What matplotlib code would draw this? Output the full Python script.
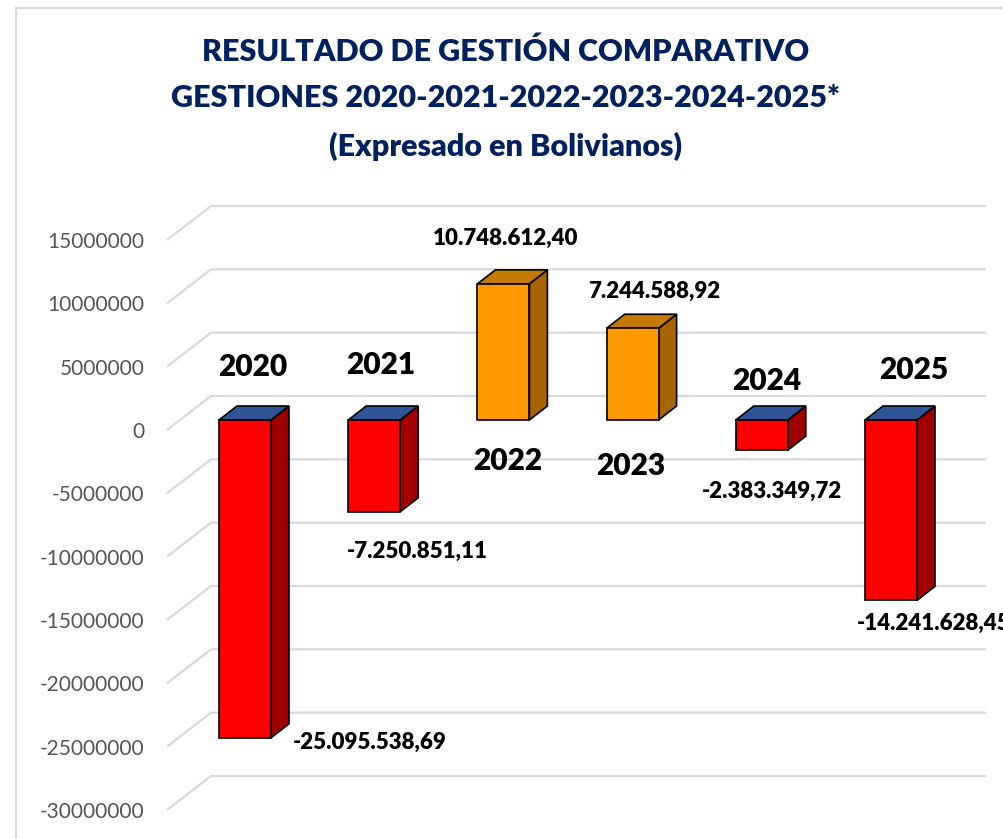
import matplotlib.pyplot as plt
from matplotlib.patches import Polygon
from matplotlib.lines import Line2D

years = ["2020", "2021", "2022", "2023", "2024", "2025"]
results = [-25095538.69, -7250851.11, 10748612.40, 7244588.92, -2383349.72, -14241628.45]
value_labels = ["-25.095.538,69", "-7.250.851,11", "10.748.612,40",
                "7.244.588,92", "-2.383.349,72", "-14.241.628,45"]
ticks = list(range(-30000000, 15000001, 5000000))
title_lines = ["RESULTADO DE GESTIÓN COMPARATIVO",
               "GESTIONES 2020-2021-2022-2023-2024-2025*",
               "(Expresado en Bolivianos)"]

# label placement in image pixels (x, y, ha)
year_pos = [(253, 367), (381, 365), (508, 461), (631, 466), (767, 381), (914, 370)]
value_pos = [(293, 742, "left"), (347, 551, "left"), (506, 238, "center"),
             (654, 291, "center"), (772, 491, "center"), (857, 623, "left")]

W, H = 1004, 839
plt.rcParams["font.family"] = ["Lato", "DejaVu Sans"]
fig = plt.figure(figsize=(W / 100, H / 100), dpi=100)

# pixel scales of the (pseudo 3d) chart
PX_CAT = 129.2          # pixels between categories
PX_VAL = 63.33 / 5e6    # pixels per boliviano
X0, Y0 = 245, 430       # pixel of first category / of value 0 on the floor front


def xpos(p):
    return (p - X0) / PX_CAT


def dv(p):
    return p / PX_VAL


ax_left = 150
ax = fig.add_axes([ax_left / W, 0, 1 - ax_left / W, 1])
ax.set_xlim(xpos(ax_left), xpos(W))
ax.set_ylim((Y0 - H) / PX_VAL, Y0 / PX_VAL)
for sp in ax.spines.values():
    sp.set_visible(False)
ax.set_xticks([])
ax.set_yticks(ticks)
ax.set_yticklabels([str(t) for t in ticks])
ax.tick_params(axis="y", length=0, pad=4, labelsize=15, labelcolor="#555555")

# gridlines: side wall + back wall
for t in ticks:
    ax.plot([xpos(167), xpos(211), xpos(986)], [t, t + dv(34), t + dv(34)],
            color="#D9D9D9", lw=1.6, zorder=1, solid_capstyle="butt")

# 3d bars
hw = 26 / PX_CAT
s = dv(10)
ddx, ddy = 18 / PX_CAT, dv(14)
for i, v in enumerate(results):
    lo, hi = min(s, v + s), max(s, v + s)
    if v < 0:
        front_c, side_c, top_c = "#FF0000", "#A00000", "#2F5597"
    else:
        front_c, side_c, top_c = "#FF9900", "#A86400", "#C47A00"
    front = [(i - hw, lo), (i + hw, lo), (i + hw, hi), (i - hw, hi)]
    side = [(i + hw, lo), (i + hw + ddx, lo + ddy), (i + hw + ddx, hi + ddy), (i + hw, hi)]
    cap = [(i - hw, hi), (i + hw, hi), (i + hw + ddx, hi + ddy), (i - hw + ddx, hi + ddy)]
    for poly, c in ((side, side_c), (cap, top_c), (front, front_c)):
        ax.add_patch(Polygon(poly, closed=True, facecolor=c, edgecolor="black",
                             lw=1.2, joinstyle="miter", zorder=3))

# labels
for (x, y), yr in zip(year_pos, years):
    fig.text(x / W, 1 - y / H, yr, ha="center", va="center", fontsize=21.5,
             fontweight="heavy", color="black", zorder=5)
for (x, y, ha), lab in zip(value_pos, value_labels):
    fig.text(x / W, 1 - y / H, lab, ha=ha, va="center", fontsize=16,
             fontweight="heavy", color="black", zorder=5)

# title
for yy, line in zip([52, 98, 146], title_lines):
    fig.text(506 / W, 1 - yy / H, line, ha="center", va="center", fontsize=22,
             fontweight="heavy", color="#002060")

# chart frame
fig.add_artist(Line2D([16 / W, 16 / W], [0, 1 - 8 / H], color="#D9D9D9", lw=1.6))
fig.add_artist(Line2D([16 / W, 1], [1 - 8 / H, 1 - 8 / H], color="#D9D9D9", lw=1.6))

fig.savefig("out.png", dpi=100)
